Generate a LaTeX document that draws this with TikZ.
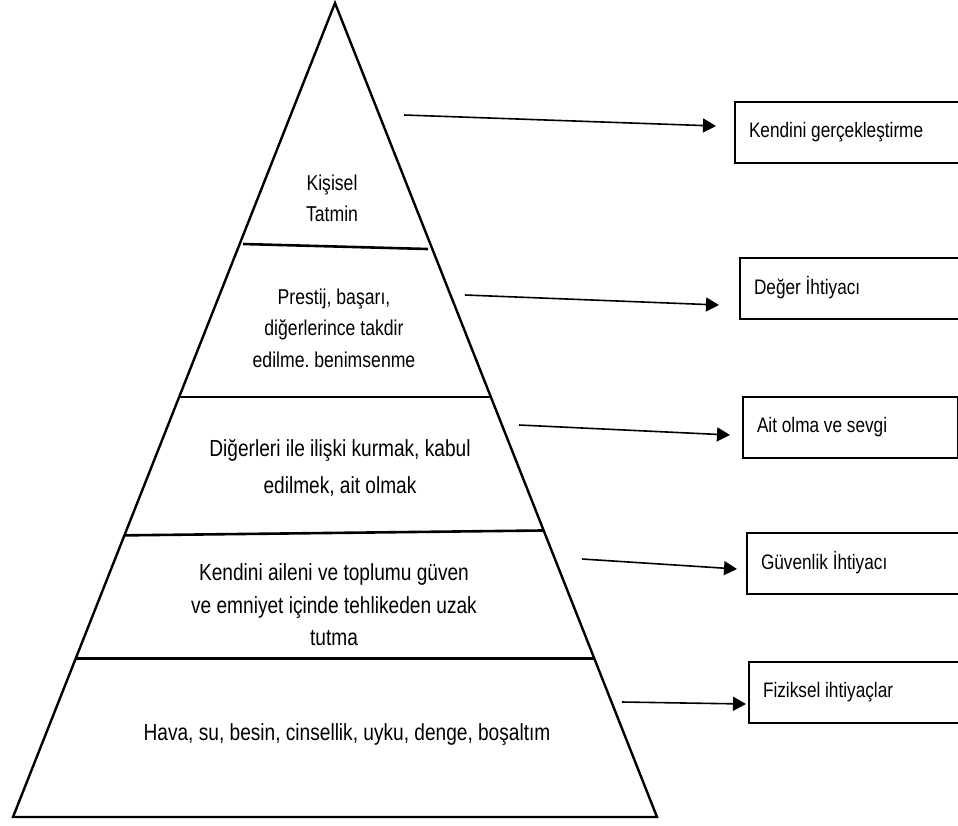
\documentclass[tikz,border=0pt]{standalone}
\usepackage{fontspec}
\setmainfont{Liberation Sans}[FakeStretch=0.82]
\usepackage{tikz}
\usetikzlibrary{calc}
\usetikzlibrary{arrows.meta}
\frenchspacing

\begin{document}
\begin{tikzpicture}
		[x=1pt,y=-1pt,
		layertext/.style={align=center,inner sep=0pt,font=\fontsize{23.3}{32}\selectfont},
		toptext/.style={align=center,inner sep=0pt,font=\fontsize{21.5}{31}\selectfont},
		needbox/.style={draw,line width=2pt,anchor=west,minimum height=61pt,text width=200pt,inner xsep=14pt,align=flush left,font=\fontsize{21}{25}\selectfont},
		needarrow/.style={line width=1.6pt,-{Triangle[length=13pt,width=14pt]}},
		layerline/.style={line width=2.6pt}]
		\clip (0,0) rectangle (958,825);
		%pyramid
		\coordinate (apex) at (335,3);
		\coordinate (bl) at (13,817);
		\coordinate (br) at (657,817);
		\draw[line width=2.4pt,line join=miter] (apex) -- (bl) -- (br) -- cycle;
		\draw[layerline] (243,244) -- (428,249);
		\draw[layerline] ($(apex)!0.484!(bl)$) -- ($(apex)!0.484!(br)$);
		\draw[layerline] ($(apex)!0.654!(bl)$) -- ($(apex)!0.648!(br)$);
		\draw[layerline] ($(apex)!0.805!(bl)$) -- ($(apex)!0.805!(br)$);
		%texts in the layers
		\node[toptext] (t1) at (332,198) {Kişisel\\Tatmin};
		\node[toptext,font=\fontsize{21.5}{31.5}\selectfont] (t2) at (334,328) {Prestij, başarı,\\diğerlerince takdir\\edilme. benimsenme};
		\node[layertext,font=\fontsize{23.3}{37}\selectfont] (t3) at (340,468) {Diğerleri ile ilişki kurmak, kabul\\edilmek, ait olmak};
		\node[layertext,font=\fontsize{23.3}{32.5}\selectfont] (t4) at (334,605) {Kendini aileni ve toplumu güven\\ve emniyet içinde tehlikeden uzak\\tutma};
		\node[layertext] (t5) at (347,735) {Hava, su, besin, cinsellik, uyku, denge, boşaltım};
		%boxes
		\node[needbox] (b1) at (734,132) {Kendini gerçekleştirme};
		\node[needbox] (b2) at (739,288) {Değer İhtiyacı};
		\node[needbox,text width=187pt] (b3) at (742,427) {Ait olma ve sevgi};
		\node[needbox] (b4) at (746,563) {Güvenlik İhtiyacı};
		\node[needbox] (b5) at (748,692) {Fiziksel ihtiyaçlar};
		%arrows
		\coordinate (s1) at (404,115);
		\coordinate (e1) at (716,126);
		\coordinate (s2) at (465,295);
		\coordinate (e2) at (719,305);
		\coordinate (s3) at (519,425);
		\coordinate (e3) at (730,435);
		\coordinate (s4) at (582,559);
		\coordinate (e4) at (737,569);
		\coordinate (s5) at (622,702);
		\coordinate (e5) at (746,704);
		\foreach \from/\to in {s1/e1,s2/e2,s3/e3,s4/e4,s5/e5}
		\draw[needarrow]  (\from) -- (\to);
	\end{tikzpicture}
\end{document}
